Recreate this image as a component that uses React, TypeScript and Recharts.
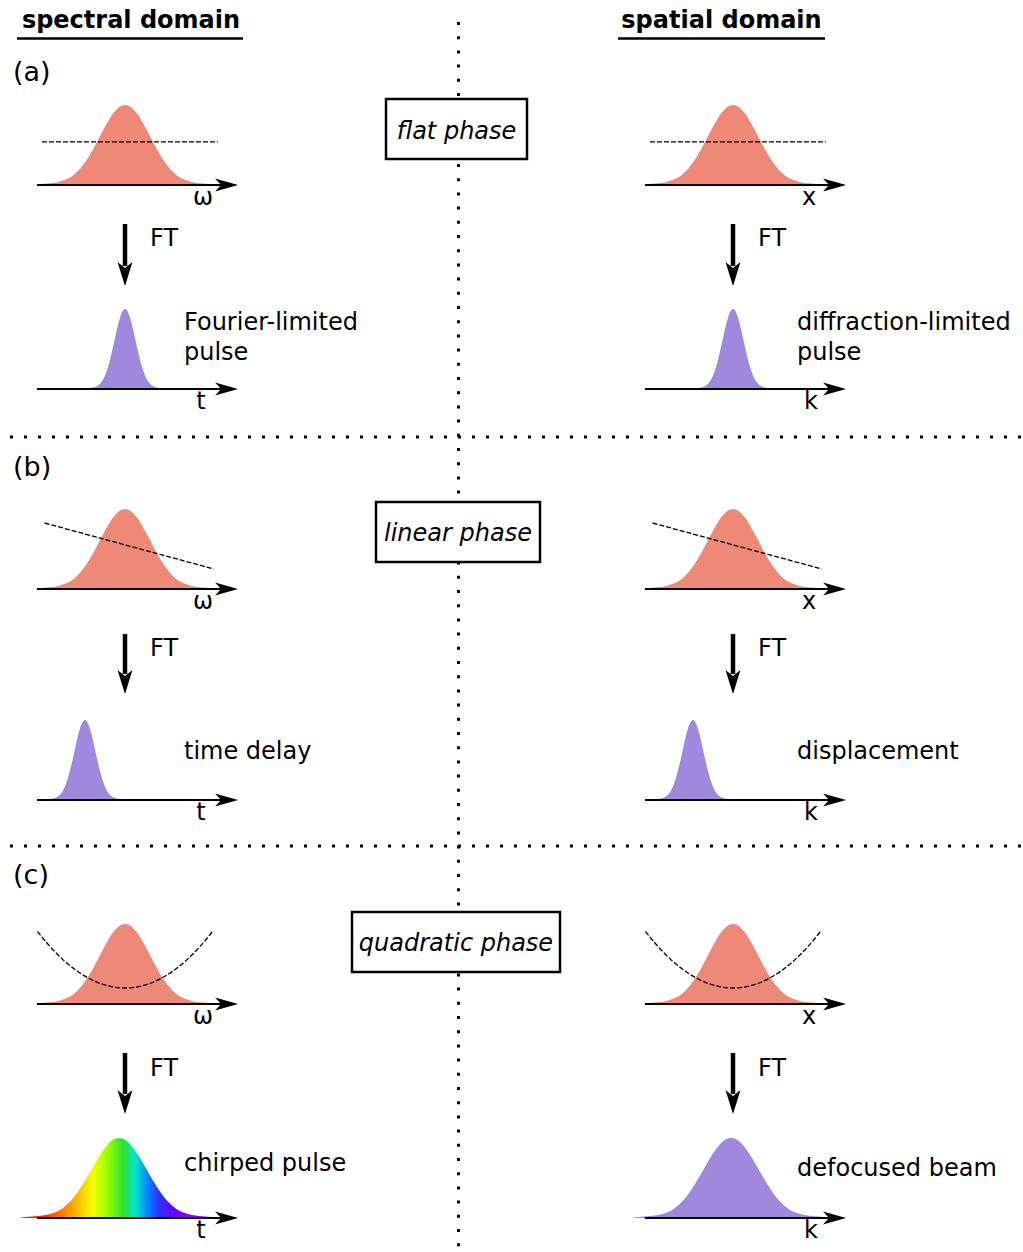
import { Area, ComposedChart, Line, ReferenceDot, ReferenceLine, XAxis, YAxis } from "recharts";

// spectral / spatial profile (red), x in units of ~24px, peak normalised to 1
const SPEC_X = [-3.7, -3.5, -3, -2.5, -2.25, -2, -1.75, -1.5, -1.25, -1, -0.75, -0.5, -0.25, 0, 0.25, 0.5, 0.75, 1, 1.25, 1.5, 1.75, 2, 2.25, 2.5, 3, 3.5, 3.7];
const SPEC_Y = [0, 0.012, 0.025, 0.065, 0.1, 0.163, 0.249, 0.36, 0.492, 0.635, 0.775, 0.893, 0.972, 1, 0.972, 0.893, 0.775, 0.635, 0.492, 0.36, 0.249, 0.163, 0.1, 0.065, 0.025, 0.012, 0];

// short pulse (purple)
const PULSE_X = [-1.75, -1.5, -1.25, -1, -0.875, -0.75, -0.625, -0.5, -0.375, -0.25, -0.125, 0, 0.125, 0.25, 0.375, 0.5, 0.625, 0.75, 0.875, 1, 1.25, 1.5, 1.75];
const PULSE_Y = [0, 0.01, 0.025, 0.08, 0.14, 0.236, 0.366, 0.524, 0.695, 0.851, 0.96, 1, 0.96, 0.851, 0.695, 0.524, 0.366, 0.236, 0.14, 0.08, 0.025, 0.01, 0];

// broadened pulse (chirped / defocused)
const BROAD_X = [-4.2, -4, -3.5, -3, -2.5, -2, -1.75, -1.5, -1.25, -1, -0.75, -0.5, -0.25, 0, 0.25, 0.5, 0.75, 1, 1.25, 1.5, 1.75, 2, 2.5, 3, 3.5, 4, 4.2];
const BROAD_Y = [0, 0.01, 0.022, 0.042, 0.094, 0.22, 0.314, 0.427, 0.554, 0.685, 0.808, 0.91, 0.977, 1, 0.977, 0.91, 0.808, 0.685, 0.554, 0.427, 0.314, 0.22, 0.094, 0.042, 0.022, 0.01, 0];

// phase curves (dashed)
const FLAT_X = [-3.46, 3.87];
const FLAT_Y = [0.54, 0.54];
const LINEAR_X = [-3.35, 3.7];
const LINEAR_Y = [0.825, 0.25];
const QUAD_X = [-3.65, -3, -2.5, -2, -1.5, -1, -0.5, 0, 0.5, 1, 1.5, 2, 2.5, 3, 3.65];
const QUAD_Y = [0.907, 0.678, 0.532, 0.412, 0.319, 0.253, 0.213, 0.2, 0.213, 0.253, 0.319, 0.412, 0.532, 0.678, 0.907];

const DELAY = -1.67;
const CHIRP_CENTER = -0.25;
const DEFOCUS_CENTER = -0.08;
const AXIS_START = -3.67;
const ARROW_TIP = 4.71;

const RED = "#EE8877";
const PURPLE = "#A088DD";
const FONT = "DejaVu Sans";

const RAINBOW = [
  [0, "#ff0000"],
  [0.12, "#ff2a00"],
  [0.22, "#ff8000"],
  [0.3, "#ffc000"],
  [0.37, "#f4ff00"],
  [0.44, "#a0ff00"],
  [0.52, "#30e030"],
  [0.58, "#00e8d0"],
  [0.64, "#0088ff"],
  [0.7, "#3030ff"],
  [0.78, "#7000ff"],
  [0.9, "#a000ff"],
  [1, "#c050ff"],
] as const;

const pts = (xs: number[], ys: number[], shift = 0) => xs.map((x, i) => ({ x: x + shift, y: ys[i] }));

type Profile = { xs: number[]; ys: number[]; shift?: number; fill: string };

const arrowHead = (p: any) => (
  <polygon
    points={`${p.cx},${p.cy} ${p.cx - 23},${p.cy - 6.5} ${p.cx - 17},${p.cy} ${p.cx - 23},${p.cy + 6.5}`}
    fill="#000"
  />
);

function Panel({ left, baseline, profile, phase, id }: { left: number; baseline: number; profile: Profile; phase?: [number[], number[]]; id: string }) {
  return (
    <div style={{ position: "absolute", left, top: baseline - 92 }}>
      <ComposedChart width={240} height={120} margin={{ top: 0, right: 0, bottom: 0, left: 0 }}>
        <defs>
          <linearGradient id={`rainbow-${id}`} x1="0" y1="0" x2="1" y2="0">
            {RAINBOW.map(([o, c]) => (
              <stop key={o} offset={o} stopColor={c} />
            ))}
          </linearGradient>
        </defs>
        <XAxis type="number" dataKey="x" domain={[-5, 5]} hide allowDataOverflow />
        <YAxis type="number" dataKey="y" domain={[-0.35, 1.15]} hide allowDataOverflow />
        <Area
          data={pts(profile.xs, profile.ys, profile.shift ?? 0)}
          dataKey="y"
          type="monotone"
          baseValue={0}
          stroke="none"
          fill={profile.fill === "rainbow" ? `url(#rainbow-${id})` : profile.fill}
          fillOpacity={1}
          isAnimationActive={false}
        />
        <ReferenceLine segment={[{ x: AXIS_START, y: 0 }, { x: 4.3, y: 0 }]} stroke="#000" strokeWidth={2} />
        <ReferenceDot x={ARROW_TIP} y={0} shape={arrowHead} />
        {phase && (
          <Line
            data={pts(phase[0], phase[1])}
            dataKey="y"
            type="monotone"
            stroke="#000"
            strokeWidth={1.3}
            strokeDasharray="5 2"
            dot={false}
            isAnimationActive={false}
          />
        )}
      </ComposedChart>
    </div>
  );
}

function FtArrow({ x, top, bottom }: { x: number; top: number; bottom: number }) {
  return (
    <g>
      <line x1={x} y1={top} x2={x} y2={bottom - 20} stroke="#000" strokeWidth={4.5} />
      <polygon points={`${x},${bottom} ${x - 7.5},${bottom - 24} ${x},${bottom - 18} ${x + 7.5},${bottom - 24}`} fill="#000" />
    </g>
  );
}

const T = (props: any) => <text fontFamily={FONT} fontSize={24} fill="#000" {...props} />;

export default function App() {
  const rows = [
    { top: 185, bottom: 389, arrow: [224, 286], ft: 246 },
    { top: 589, bottom: 800, arrow: [634, 694], ft: 656 },
    { top: 1004, bottom: 1218, arrow: [1053, 1114], ft: 1076 },
  ];
  const phases: [number[], number[]][] = [
    [FLAT_X, FLAT_Y],
    [LINEAR_X, LINEAR_Y],
    [QUAD_X, QUAD_Y],
  ];
  const lowerLeft: Profile[] = [
    { xs: PULSE_X, ys: PULSE_Y, fill: PURPLE },
    { xs: PULSE_X, ys: PULSE_Y, shift: DELAY, fill: PURPLE },
    { xs: BROAD_X, ys: BROAD_Y, shift: CHIRP_CENTER, fill: "rainbow" },
  ];
  const lowerRight: Profile[] = [
    { xs: PULSE_X, ys: PULSE_Y, fill: PURPLE },
    { xs: PULSE_X, ys: PULSE_Y, shift: DELAY, fill: PURPLE },
    { xs: BROAD_X, ys: BROAD_Y, shift: DEFOCUS_CENTER, fill: PURPLE },
  ];
  const boxes = [
    { x: 386, y: 99, w: 141, label: "flat phase" },
    { x: 376, y: 502, w: 164, label: "linear phase" },
    { x: 352, y: 912, w: 208, label: "quadratic phase" },
  ];

  return (
    <div style={{ position: "relative", width: 1023, height: 1252, background: "#fff", overflow: "hidden" }}>
      <style>{"body{margin:0}"}</style>
      {rows.map((r, i) => (
        <div key={i}>
          <Panel id={`l${i}a`} left={5} baseline={r.top} profile={{ xs: SPEC_X, ys: SPEC_Y, fill: RED }} phase={phases[i]} />
          <Panel id={`r${i}a`} left={613} baseline={r.top} profile={{ xs: SPEC_X, ys: SPEC_Y, fill: RED }} phase={phases[i]} />
          <Panel id={`l${i}b`} left={5} baseline={r.bottom} profile={lowerLeft[i]} />
          <Panel id={`r${i}b`} left={613} baseline={r.bottom} profile={lowerRight[i]} />
        </div>
      ))}
      <svg width={1023} height={1252} style={{ position: "absolute", left: 0, top: 0, pointerEvents: "none" }}>
        <line x1={458.5} y1={22} x2={458.5} y2={1252} stroke="#000" strokeWidth={3} strokeDasharray="3 11.2" />
        <line x1={10} y1={437} x2={1023} y2={437} stroke="#000" strokeWidth={3} strokeDasharray="3 11" />
        <line x1={10} y1={846} x2={1023} y2={846} stroke="#000" strokeWidth={3} strokeDasharray="3 11" />

        <T x={131} y={28} fontWeight="bold" textAnchor="middle">spectral domain</T>
        <line x1={17} y1={38.5} x2={243} y2={38.5} stroke="#000" strokeWidth={2.5} />
        <T x={721.5} y={28} fontWeight="bold" textAnchor="middle">spatial domain</T>
        <line x1={618} y1={38.5} x2={825} y2={38.5} stroke="#000" strokeWidth={2.5} />

        {["(a)", "(b)", "(c)"].map((l, i) => (
          <T key={l} x={13} y={[81, 476, 884][i]} fontSize={27}>{l}</T>
        ))}

        {boxes.map((b, i) => (
          <g key={b.label}>
            <rect x={b.x} y={b.y} width={b.w} height={60} fill="#fff" stroke="#000" strokeWidth={2.5} />
            <T x={b.x + b.w / 2} y={b.y + [40, 39, 39][i]} fontStyle="italic" textAnchor="middle">{b.label}</T>
          </g>
        ))}

        {rows.map((r, i) => (
          <g key={i}>
            <FtArrow x={125} top={r.arrow[0]} bottom={r.arrow[1]} />
            <FtArrow x={733} top={r.arrow[0]} bottom={r.arrow[1]} />
            <T x={150} y={r.ft}>FT</T>
            <T x={758} y={r.ft}>FT</T>
            <T x={203} y={r.top + 20} textAnchor="middle">ω</T>
            <T x={809} y={r.top + 20} textAnchor="middle">x</T>
            <T x={201} y={r.bottom + 20} textAnchor="middle">t</T>
            <T x={811} y={r.bottom + 20} textAnchor="middle">k</T>
          </g>
        ))}

        <T x={184} y={330}>Fourier-limited</T>
        <T x={184} y={360}>pulse</T>
        <T x={797} y={330}>diffraction-limited</T>
        <T x={797} y={360}>pulse</T>
        <T x={184} y={759}>time delay</T>
        <T x={797} y={759}>displacement</T>
        <T x={184} y={1171}>chirped pulse</T>
        <T x={797} y={1176}>defocused beam</T>
      </svg>
    </div>
  );
}
